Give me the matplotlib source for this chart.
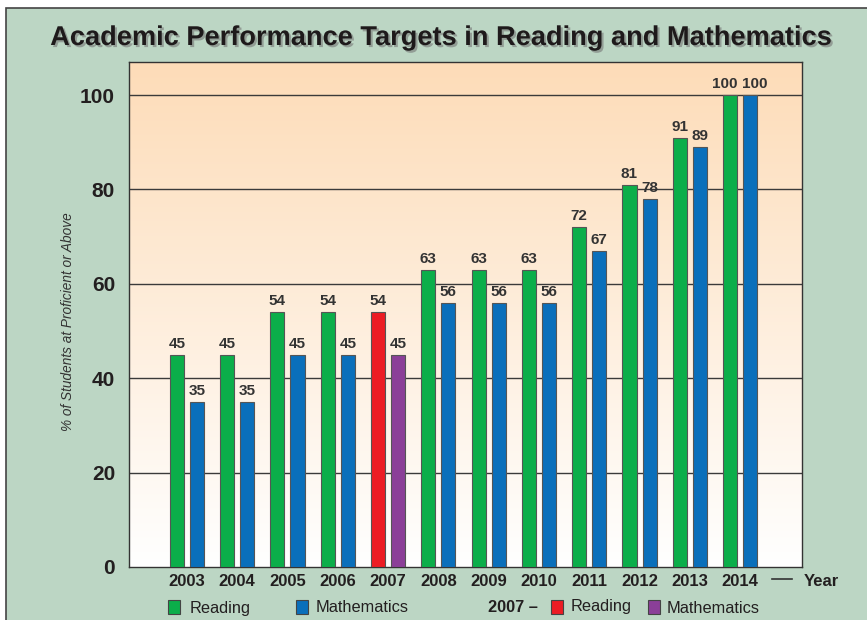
import matplotlib.pyplot as plt
import matplotlib.patheffects as pe
from matplotlib.patches import Rectangle
import numpy as np

years = ['2003', '2004', '2005', '2006', '2007', '2008', '2009', '2010', '2011', '2012', '2013', '2014']
reading = [45, 45, 54, 54, 54, 63, 63, 63, 72, 81, 91, 100]
maths = [35, 35, 45, 45, 45, 56, 56, 56, 67, 78, 89, 100]
special_year = '2007'
yticks = [0, 20, 40, 60, 80, 100]

green = '#0bae4a'
blue = '#0a6fbb'
red = '#ec1c24'
purple = '#8b3f98'
bg = '#bcd6c4'

plt.rcParams['font.family'] = ['Liberation Sans', 'DejaVu Sans']

fig = plt.figure(figsize=(8.67, 6.2), dpi=100)
fig.patch.set_facecolor('white')
fig.patches.append(Rectangle((6/867, -0.01), 1.0, 1 - 8/620 + 0.01, transform=fig.transFigure,
                             facecolor=bg, edgecolor='#444444', linewidth=1.2, zorder=-10))

ax = fig.add_axes([129/867, 1 - 567/620, (802-129)/867, (567-62)/620])
x = np.arange(len(years))
ax.set_xlim(-1.15, 12.23)
ax.set_ylim(0, 107)

# gradient: white bottom -> peach top
grad = np.linspace(0, 1, 256).reshape(-1, 1)
top = np.array([253, 220, 184]) / 255
bot = np.array([255, 255, 255]) / 255
img = bot + (top - bot) * grad[..., None]
ax.imshow(img, extent=[-1.15, 12.23, 0, 107], origin='lower', aspect='auto', zorder=0)

for v in yticks[1:]:
    ax.axhline(v, color='#3a3a3a', lw=1.0, zorder=1)

w = 0.28
off = 0.2
rc = [red if y == special_year else green for y in years]
mc = [purple if y == special_year else blue for y in years]
ax.bar(x - off, reading, w, color=rc, edgecolor='#555555', linewidth=0.8, zorder=3)
ax.bar(x + off, maths, w, color=mc, edgecolor='#555555', linewidth=0.8, zorder=3)
for i in range(len(years)):
    # three-digit labels are pushed apart so they do not collide
    nudge = 0.11 if reading[i] >= 100 else 0
    ax.text(x[i] - off - nudge, reading[i] + 0.8, str(reading[i]), ha='center', va='bottom',
            fontsize=11, fontweight='bold', color='#333333', zorder=4)
    nudge = 0.1 if maths[i] >= 100 else 0
    ax.text(x[i] + off + nudge, maths[i] + 0.8, str(maths[i]), ha='center', va='bottom',
            fontsize=11, fontweight='bold', color='#333333', zorder=4)

ax.set_xticks(x)
ax.set_xticklabels(years, fontsize=12, fontweight='bold', color='#231f20')
ax.set_yticks(yticks)
ax.set_yticklabels([str(v) for v in yticks], fontsize=15, fontweight='bold', color='#231f20')
ax.tick_params(length=0)
ax.tick_params(axis='y', pad=10)
ax.tick_params(axis='x', pad=5)
for s in ax.spines.values():
    s.set_color('#333333')
    s.set_linewidth(1.0)

ax.set_ylabel('% of Students at Proficient or Above', fontsize=9.8, style='italic',
              color='#333333')
ax.yaxis.set_label_coords(-0.08, 0.485)

fig.text(442/867, 1 - 38/620, 'Academic Performance Targets in Reading and Mathematics',
         ha='center', va='center', fontsize=19.6, fontweight='bold', color='#1e1a1b',
         path_effects=[pe.withSimplePatchShadow(offset=(1.5, -1.5), shadow_rgbFace='#777777', alpha=0.6)])

# Year marker
fig.add_artist(plt.Line2D([772/867, 792/867], [1 - 579/620, 1 - 579/620], color='#333333', lw=1.2))
fig.text(804/867, 1 - 581/620, 'Year', ha='left', va='center', fontsize=12, fontweight='bold', color='#231f20')

# legend row
ly = 1 - 607/620
sw, sh = 12/867, 14/620
def swatch(px, c):
    fig.patches.append(Rectangle((px/867, ly - sh/2), sw, sh, transform=fig.transFigure,
                                 facecolor=c, edgecolor='#444444', linewidth=0.8))
swatch(168, green)
fig.text(190/867, ly - 0.003, 'Reading', ha='left', va='center', fontsize=11.8, color='#231f20')
swatch(296, blue)
fig.text(316/867, ly, 'Mathematics', ha='left', va='center', fontsize=11.8, color='#231f20')
fig.text(488/867, ly, '2007 \u2013', ha='left', va='center', fontsize=11.8, fontweight='bold', color='#231f20')
swatch(551, red)
fig.text(571/867, ly, 'Reading', ha='left', va='center', fontsize=11.8, color='#231f20')
swatch(648, purple)
fig.text(667/867, ly - 0.002, 'Mathematics', ha='left', va='center', fontsize=11.8, color='#231f20')

fig.savefig('out.png', dpi=100)
